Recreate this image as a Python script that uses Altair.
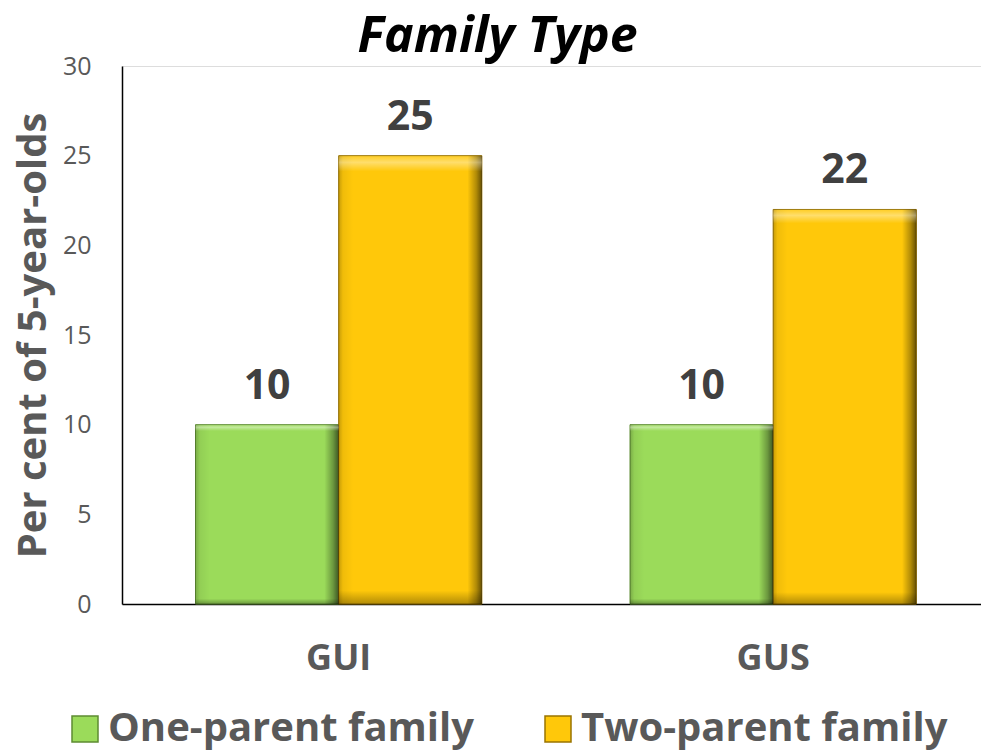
import altair as alt
import pandas as pd

# Survey groups and family-type shares (per cent of 5-year-olds)
studies = ["GUI", "GUI", "GUS", "GUS"]
family_types = ["One-parent family", "Two-parent family", "One-parent family", "Two-parent family"]
percentages = [10, 25, 10, 22]

series_order = ["One-parent family", "Two-parent family"]
series_colors = ["#9BDB5A", "#FFC80A"]
y_ticks = [0, 5, 10, 15, 20, 25, 30]

df = pd.DataFrame({"study": studies, "family": family_types, "pct": percentages})

FONT = "Open Sans"

x_enc = alt.X(
    "study:N",
    title=None,
    sort=["GUI", "GUS"],
    scale=alt.Scale(paddingInner=0.341, paddingOuter=0.159, align=0.532),
    axis=alt.Axis(
        labelFont=FONT, labelFontSize=36, labelFontWeight="bold", labelColor="#595959",
        labelPadding=37, ticks=False, domainColor="#000000", domainWidth=1.5,
        labelAngle=0,
    ),
)
y_enc = alt.Y(
    "pct:Q",
    title="Per cent of 5-year-olds",
    scale=alt.Scale(domain=[0, 30], nice=False),
    axis=alt.Axis(
        values=y_ticks, grid=False, ticks=False,
        labelFont=FONT, labelFontSize=25, labelColor="#595959", labelPadding=31,
        titleFont=FONT, titleFontSize=40, titleFontWeight="bold", titleColor="#595959",
        titlePadding=9, domainColor="#000000", domainWidth=1.5,
    ),
)
offset_enc = alt.XOffset("family:N", sort=series_order)

base = alt.Chart(df)

bars = base.mark_bar(strokeWidth=1).encode(
    x=x_enc,
    y=y_enc,
    xOffset=offset_enc,
    color=alt.Color(
        "family:N",
        sort=series_order,
        scale=alt.Scale(domain=series_order, range=series_colors),
        legend=alt.Legend(
            title=None, orient="none", direction="horizontal",
            legendX=-57, legendY=643,
            symbolType="square", symbolSize=676, symbolStrokeWidth=1.5,
            symbolStrokeColor="#5a5a2a",
            labelFont=FONT, labelFontSize=40, labelFontWeight="bold",
            labelColor="#595959", labelOffset=3, columnPadding=63,
            labelLimit=600,
        ),
    ),
    stroke=alt.Stroke(
        "family:N", sort=series_order,
        scale=alt.Scale(domain=series_order, range=["#5E8C32", "#9A7400"]),
        legend=None,
    ),
)

# Bevel shading across each bar: darker edges, clear middle
side_shade = base.mark_bar(
    color={
        "gradient": "linear", "x1": 0, "x2": 1, "y1": 0, "y2": 0,
        "stops": [
            {"offset": 0.0, "color": "rgba(0,0,0,0.22)"},
            {"offset": 0.03, "color": "rgba(0,0,0,0.06)"},
            {"offset": 0.1, "color": "rgba(0,0,0,0.0)"},
            {"offset": 0.9, "color": "rgba(0,0,0,0.0)"},
            {"offset": 0.96, "color": "rgba(0,0,0,0.3)"},
            {"offset": 1.0, "color": "rgba(0,0,0,0.6)"},
        ],
    }
).encode(x=x_enc, y=y_enc, xOffset=offset_enc)

# Light top edge and darker foot of each bar
top_shade = base.mark_bar(
    color={
        "gradient": "linear", "x1": 0, "x2": 0, "y1": 0, "y2": 1,
        "stops": [
            {"offset": 0.0, "color": "rgba(255,255,255,0.1)"},
            {"offset": 0.015, "color": "rgba(255,255,255,0.4)"},
            {"offset": 0.035, "color": "rgba(255,255,255,0.0)"},
            {"offset": 0.97, "color": "rgba(0,0,0,0.0)"},
            {"offset": 1.0, "color": "rgba(0,0,0,0.3)"},
        ],
    }
).encode(x=x_enc, y=y_enc, xOffset=offset_enc)

labels = base.mark_text(
    font=FONT, fontSize=41, fontWeight="bold", color="#404040",
    baseline="alphabetic", dy=-26,
).encode(
    x=x_enc,
    y=y_enc,
    xOffset=offset_enc,
    text=alt.Text("pct:Q"),
)

chart = (
    alt.layer(bars, side_shade, top_shade, labels)
    .properties(
        width=859,
        height=538,
        title=alt.TitleParams(
            "Family Type", font=FONT, fontSize=50, fontWeight="bold", fontStyle="italic",
            color="#000000", anchor="middle", dx=-54, offset=0, dy=8,
        ),
        autosize=alt.AutoSizeParams(type="none"),
        padding={"left": 122, "top": 66, "right": 0, "bottom": 147},
    )
    .configure_view(stroke=None)
    .configure(background="white")
)

chart.save("out.html", embed_options={"renderer": "svg", "actions": False})
